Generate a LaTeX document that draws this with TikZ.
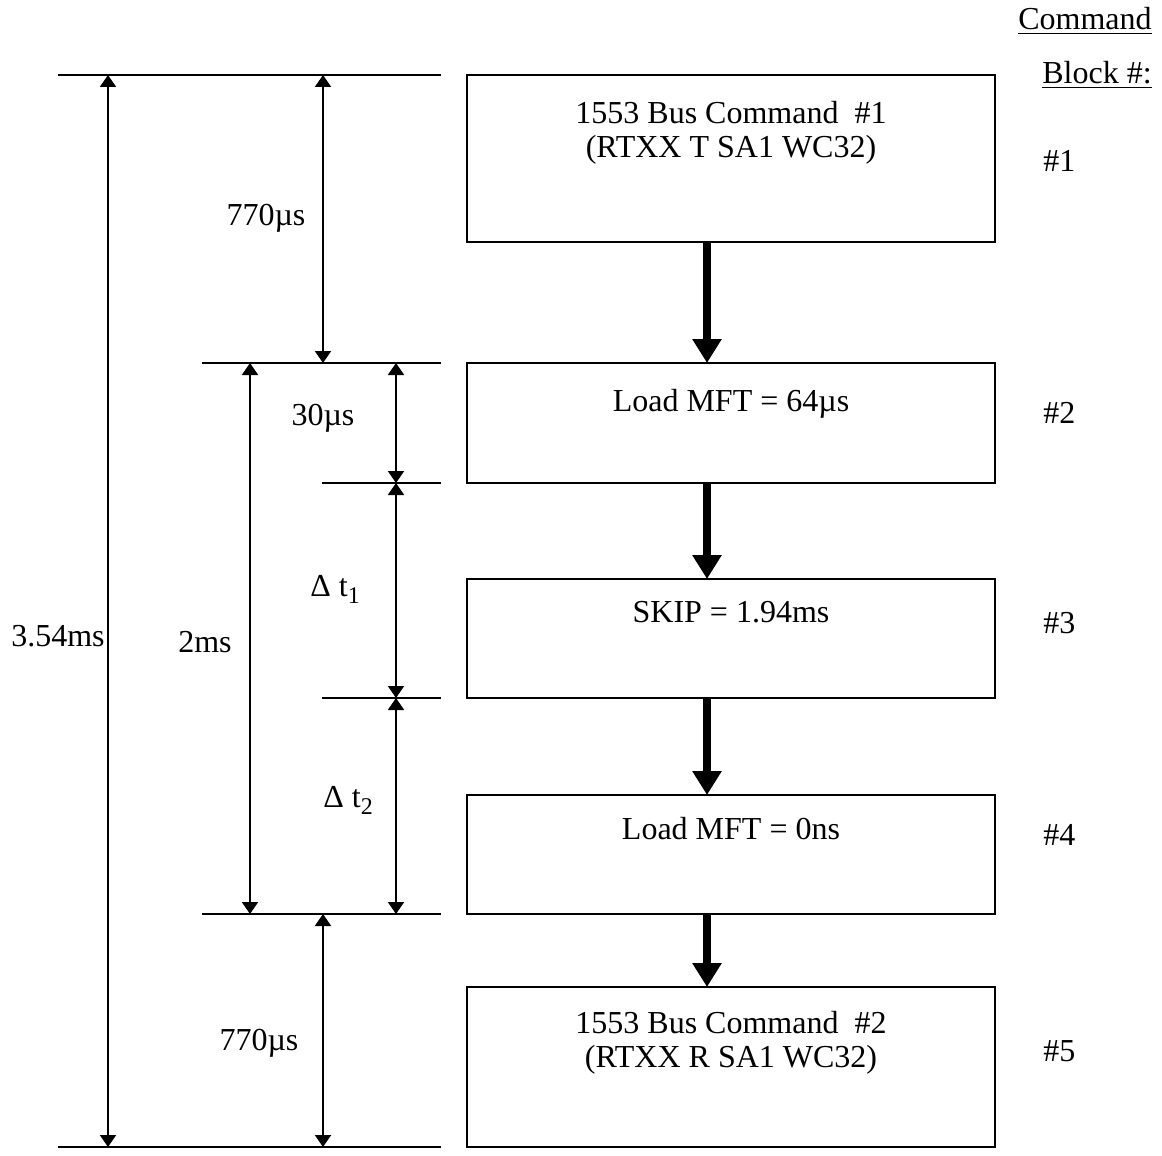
\documentclass[tikz,border=0pt]{standalone}
\usepackage{fontspec}
\setmainfont{Liberation Serif}
\usetikzlibrary{positioning,arrows.meta}

\newcommand{\subidx}[1]{\raisebox{-3.5pt}{\fontsize{12}{12}\selectfont #1}}

\tikzset{
  blockbox/.style={draw, line width=1pt, minimum width=264pt, inner sep=0pt, outer sep=0pt},
  blocktext/.style={font=\fontsize{16}{17}\selectfont, align=center, inner sep=0pt},
  lbl/.style={font=\fontsize{16}{20.5}\selectfont, inner sep=0pt},
  rule/.style={line width=1pt},
  dimarrow/.style={line width=1pt, {Triangle[width=8pt,length=6pt]}-{Triangle[width=8pt,length=6pt]}},
  flowarrow/.style={line width=4pt, -{Triangle[width=14pt,length=12pt]}}
}

\begin{document}
\begin{tikzpicture}[x=0.5pt,y=-0.5pt]
    \useasboundingbox (0,0) rectangle (1162,1156);

    % command blocks
    \node[blockbox, minimum height=83.5pt] (b1) at (731,158.5) {};
    \node[blockbox, minimum height=60pt, below=60.5pt of b1] (b2) {};
    \node[blockbox, minimum height=59.5pt, below=48pt of b2] (b3) {};
    \node[blockbox, minimum height=59.5pt, below=48.5pt of b3] (b4) {};
    \node[blockbox, minimum height=80pt, below=36.5pt of b4] (b5) {};

    \node[blocktext, below=13pt of b1.north] (t1) {1553 Bus Command\ \ \#1\\(RTXX T SA1 WC32)};
    \node[blocktext, below=13pt of b2.north] (t2) {Load MFT = 64µs};
    \node[blocktext, below=11pt of b3.north] (t3) {SKIP = 1.94ms};
    \node[blocktext, below=11pt of b4.north] (t4) {Load MFT = 0ns};
    \node[blocktext, below=12pt of b5.north] (t5) {1553 Bus Command\ \ \#2\\(RTXX R SA1 WC32)};

    % flow
    \foreach \a/\b in {b1/b2,b2/b3,b3/b4,b4/b5}
        \draw[flowarrow] ([xshift=-12pt]\a.south) -- ([xshift=-12pt]\b.north);

    % columns
    \coordinate (xL) at (58,0);
    \coordinate (xM) at (202,0);
    \coordinate (xN) at (322,0);
    \coordinate (xR) at (441,0);
    \coordinate (d1) at (108,0);
    \coordinate (d2) at (250,0);
    \coordinate (d3) at (323,0);
    \coordinate (d4) at (396,0);

    % time marks
    \draw[rule] (b1.north -| xL) -- (b1.north -| xR);
    \draw[rule] (b2.north -| xM) -- (b2.north -| xR);
    \draw[rule] (b2.south -| xN) -- (b2.south -| xR);
    \draw[rule] (b3.south -| xN) -- (b3.south -| xR);
    \draw[rule] (b4.south -| xM) -- (b4.south -| xR);
    \draw[rule] (b5.south -| xL) -- (b5.south -| xR);

    % durations
    \draw[dimarrow] (b1.north -| d1) -- (b5.south -| d1);
    \draw[dimarrow] (b1.north -| d3) -- (b2.north -| d3);
    \draw[dimarrow] (b2.north -| d2) -- (b4.south -| d2);
    \draw[dimarrow] (b2.north -| d4) -- (b2.south -| d4);
    \draw[dimarrow] (b2.south -| d4) -- (b3.south -| d4);
    \draw[dimarrow] (b3.south -| d4) -- (b4.south -| d4);
    \draw[dimarrow] (b4.south -| d3) -- (b5.south -| d3);

    \node[lbl] (l770a) at (266,218) {770µs};
    \node[lbl] (l30) at (323,418) {30µs};
    \node[lbl, anchor=base west] (ldt1) at (310,596) {Δ t\subidx{1}};
    \node[lbl, anchor=base west] (ldt2) at (323,807) {Δ t\subidx{2}};
    \node[lbl] (l354) at (58,636) {3.54ms};
    \node[lbl] (l2ms) at (205,642) {2ms};
    \node[lbl] (l770b) at (259,1043) {770µs};

    % block numbers
    \node[lbl, anchor=base] (hd1) at (1085,30) {\underline{Command}};
    \node[lbl, anchor=base] (hd2) at (1097,84) {\underline{Block \#:}};
    \node[lbl, anchor=base west] (n1) at (1043,171) {\#1};
    \node[lbl, anchor=base west] (n2) at (1043,423) {\#2};
    \node[lbl, anchor=base west] (n3) at (1043,633) {\#3};
    \node[lbl, anchor=base west] (n4) at (1043,845) {\#4};
    \node[lbl, anchor=base west] (n5) at (1043,1061) {\#5};
\end{tikzpicture}
\end{document}
